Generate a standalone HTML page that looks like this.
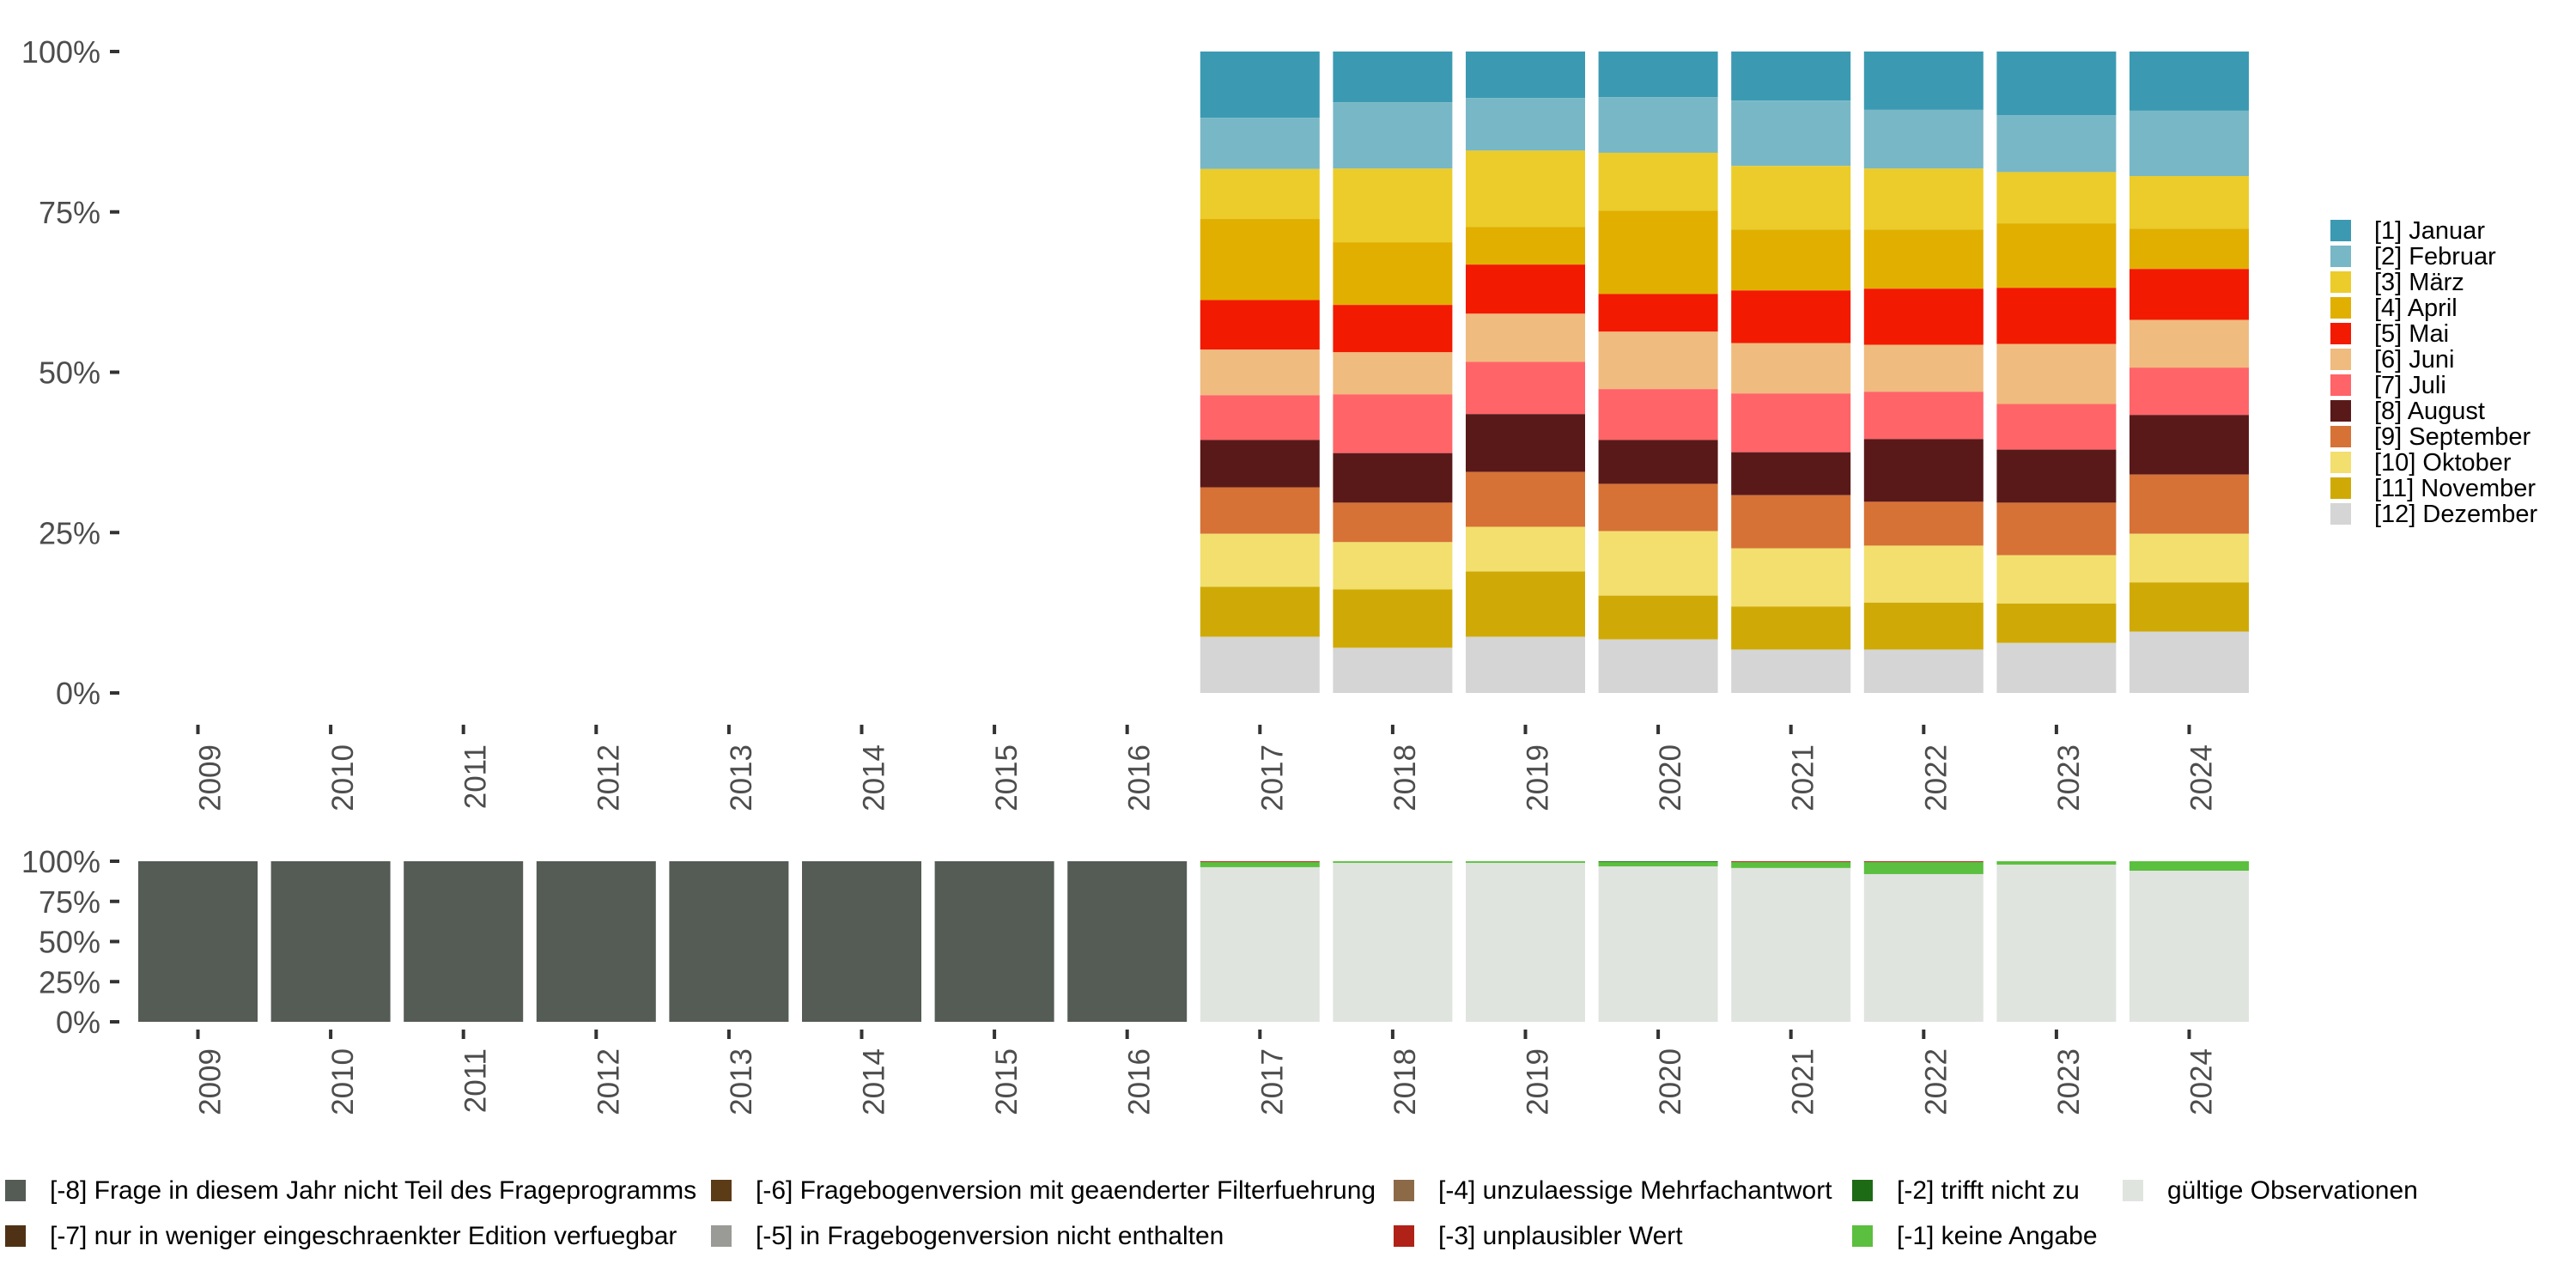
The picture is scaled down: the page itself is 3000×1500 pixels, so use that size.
<!DOCTYPE html>
<html><head><meta charset="utf-8"><style>
html,body{margin:0;padding:0;background:#fff}
svg{display:block;font-family:"Liberation Sans","DejaVu Sans",sans-serif}
</style></head><body>
<svg id="chart" width="3000" height="1500" viewBox="0 0 3000 1500" xmlns="http://www.w3.org/2000/svg">
<g id="top"></g>
<g id="bot"></g>
<g id="legR"></g>
<g id="legB"></g>
</svg>
<script>
const years = [2009,2010,2011,2012,2013,2014,2015,2016,2017,2018,2019,2020,2021,2022,2023,2024];
const months = ["[1] Januar","[2] Februar","[3] März","[4] April","[5] Mai","[6] Juni","[7] Juli","[8] August","[9] September","[10] Oktober","[11] November","[12] Dezember"];
const monthColors = ["#3b9ab2","#78b7c5","#ebcc2a","#e1af00","#f21a00","#f0bb7e","#ff6468","#5a1919","#d67236","#f2df6e","#cfaa06","#d5d5d5"];
// month shares (relative, per year 2017-2024), Jan..Dec
const share2017 = [151,117,114,185,113,104,102,108,106,121,114,128];
const share2018 = [116,151,168,143,108,96,134,113,90,108,133,103];
const share2019 = [106,120,174,86,112,110,119,132,125,102,149,128];
const share2020 = [104,127,132,190,86,131,116,100,108,147,100,122];
const share2021 = [112,149,145,139,120,115,134,98,121,133,98,99];
const share2022 = [133,134,139,135,128,107,108,143,100,130,107,99];
const share2023 = [145,130,117,147,128,137,104,121,120,110,90,114];
const share2024 = [135,149,120,92,116,109,108,136,135,111,112,140];
const monthYears = [2017,2018,2019,2020,2021,2022,2023,2024];
const monthShares = [share2017,share2018,share2019,share2020,share2021,share2022,share2023,share2024];
const yTicks = [0,25,50,75,100];
const yTickLabels = ["0%","25%","50%","75%","100%"];
// missing categories
const missCats = ["[-8] Frage in diesem Jahr nicht Teil des Frageprogramms","[-7] nur in weniger eingeschraenkter Edition verfuegbar","[-6] Fragebogenversion mit geaenderter Filterfuehrung","[-5] in Fragebogenversion nicht enthalten","[-4] unzulaessige Mehrfachantwort","[-3] unplausibler Wert","[-2] trifft nicht zu","[-1] keine Angabe","gültige Observationen"];
const missColors = ["#555b55","#4f3216","#5c3b17","#9a9a96","#8c6a48","#b02217","#1e6b16","#5bbf3f","#e0e4df"];
// percent per year for: -8, -3, -2, -1, valid
const pctMinus8 = [100,100,100,100,100,100,100,100,0,0,0,0,0,0,0,0];
const pctMinus3 = [0,0,0,0,0,0,0,0,0.5,0,0,0,0.5,0.5,0,0];
const pctMinus2 = [0,0,0,0,0,0,0,0,0,0,0,0.5,0,0,0,0];
const pctMinus1 = [0,0,0,0,0,0,0,0,3.2,1,1,2.7,3.7,7.5,2.1,5.9];

const NS="http://www.w3.org/2000/svg";
function mk(tag,attrs,parent){const e=document.createElementNS(NS,tag);for(const k in attrs)e.setAttribute(k,attrs[k]);parent.appendChild(e);return e;}
const step=154.6, barW=139, x0=161;
function xLeft(i){return x0+i*step;}
function xCenter(i){return x0+i*step+barW/2;}
const topY0=807, topY1=60, botY0=1190, botY1=1003;
function yTop(p){return topY0-(topY0-topY1)*p/100;}
function yBot(p){return botY0-(botY0-botY1)*p/100;}

function axes(g,yf,tickY,labYEnd,fs){
  yTicks.forEach((t,k)=>{
    const y=yf(t);
    const tk=mk('rect',{x:128,y:y-2,width:11,height:4,fill:'#333'},g);
    
    
    const lb=mk('text',{x:117,y:y+13,'text-anchor':'end','font-size':fs,fill:'#4d4d4d'},g);
    lb.textContent=yTickLabels[k];
    
    
  });
  years.forEach((yr,i)=>{
    const cx=xCenter(i);
    const tk=mk('rect',{x:cx-2,y:tickY,width:4,height:11,fill:'#333'},g);
    
    
    const lb=mk('text',{x:0,y:0,'text-anchor':'end','font-size':35,fill:'#4d4d4d',transform:`translate(${cx+26},${labYEnd}) rotate(-90)`},g);
    lb.textContent=yr;
    
    
  });
}
const gT=document.getElementById('top'), gB=document.getElementById('bot');
axes(gT,yTop,844,867,36);
axes(gB,yBot,1199,1221,36);

// top stacked bars
monthYears.forEach((yr,j)=>{
  const i=years.indexOf(yr);
  const vals=monthShares[j];
  const tot=vals.reduce((a,b)=>a+b,0);
  let cum=100;
  vals.forEach((v,m)=>{
    const p=v/tot*100;
    const yA=yTop(cum), yB=yTop(cum-p);
    const r=mk('rect',{x:xLeft(i),y:yA,width:barW,height:yB-yA,fill:monthColors[m]},gT);
    
    
    cum-=p;
  });
});

// bottom stacked bars
years.forEach((yr,i)=>{
  const valid=100-pctMinus8[i]-pctMinus3[i]-pctMinus2[i]-pctMinus1[i];
  const parts=[[valid,8],[pctMinus1[i],7],[pctMinus2[i],6],[pctMinus3[i],5],[pctMinus8[i],0]];
  let cum=0;
  parts.forEach(([p,c])=>{
    if(p<=0)return;
    const yA=yBot(cum+p), yB=yBot(cum);
    const r=mk('rect',{x:xLeft(i),y:yA,width:barW,height:yB-yA,fill:missColors[c]},gB);
    
    
    cum+=p;
  });
});

// right legend
const gR=document.getElementById('legR');
months.forEach((m,k)=>{
  const y=256+30*k;
  const s=mk('rect',{x:2714,y:y,width:24,height:25,fill:monthColors[k]},gR);
  
  
  const t=mk('text',{x:2765,y:y+22,'font-size':29,fill:'#000'},gR);
  t.textContent=m;
  
  
});

// bottom legend (column-major, 2 rows)
const gL=document.getElementById('legB');
const colX=[6,828,1623,2157,2472], rowY=[1374,1427];
missCats.forEach((c,k)=>{
  const col=Math.floor(k/2), row=k%2;
  const x=colX[col], y=rowY[row];
  const s=mk('rect',{x:x,y:y,width:24,height:25,fill:missColors[k]},gL);
  
  
  const t=mk('text',{x:x+52,y:y+22,'font-size':30,fill:'#000'},gL);
  t.textContent=c;
  
  
});
</script>
</body></html>
